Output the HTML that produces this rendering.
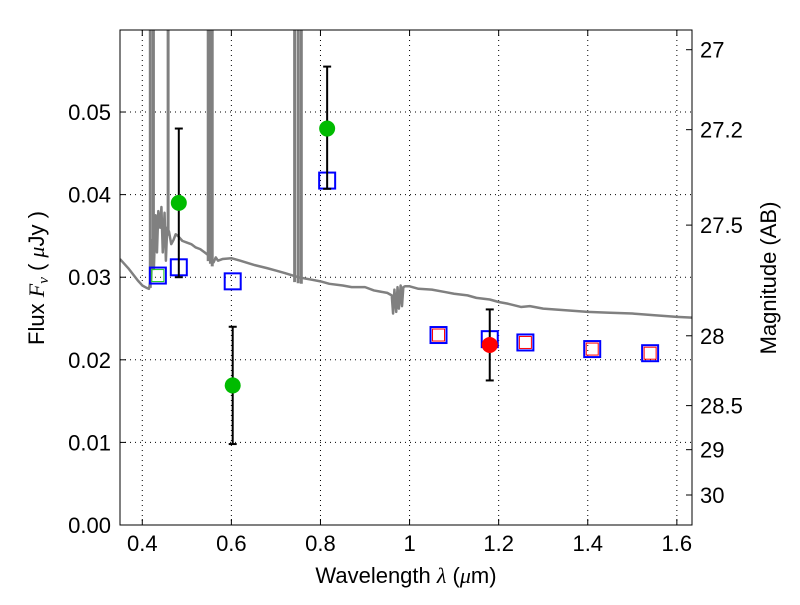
<!DOCTYPE html>
<html><head><meta charset="utf-8"><style>
body{margin:0;background:#fff}
svg text{font-family:"Liberation Sans",sans-serif;font-size:22px;fill:#000}
</style></head><body>
<svg id="c" width="800" height="600"></svg>
<script>
const specW=[0.35,0.37,0.39,0.40,0.41,0.415,0.42,0.423,0.426,0.43,0.433,0.436,0.44,0.443,0.446,0.45,0.453,0.456,0.46,0.465,0.47,0.475,0.48,0.49,0.5,0.51,0.52,0.53,0.54,0.55,0.56,0.565,0.57,0.58,0.6,0.62,0.65,0.68,0.7,0.72,0.75,0.78,0.8,0.82,0.85,0.87,0.9,0.92,0.95,0.96,0.963,0.966,0.97,0.973,0.976,0.98,0.983,0.986,0.99,1.0,1.02,1.05,1.08,1.1,1.13,1.15,1.18,1.2,1.22,1.25,1.27,1.3,1.35,1.4,1.45,1.5,1.55,1.6,1.634];
const specF=[0.0322,0.0310,0.0296,0.0290,0.0287,0.0286,0.0300,0.0345,0.031,0.0375,0.033,0.038,0.036,0.0385,0.033,0.0378,0.032,0.036,0.0355,0.034,0.0345,0.0352,0.035,0.0344,0.0342,0.0340,0.0336,0.0334,0.0330,0.0326,0.0318,0.0324,0.032,0.0322,0.0323,0.0320,0.0315,0.0311,0.0308,0.0305,0.0300,0.0297,0.0295,0.0292,0.0290,0.0288,0.0288,0.0284,0.0281,0.0278,0.0256,0.0285,0.0258,0.0288,0.0262,0.029,0.0265,0.0288,0.0289,0.0289,0.0286,0.0285,0.0282,0.0280,0.0278,0.0275,0.0273,0.0270,0.0268,0.0264,0.0265,0.0262,0.0260,0.0258,0.0257,0.0256,0.0254,0.0252,0.0251];
const lineW=[0.418,0.425,0.458,0.548,0.553,0.557,0.742,0.750,0.757];
const modelW=[0.435,0.482,0.603,0.815,1.065,1.18,1.26,1.41,1.54];
const modelF=[0.0302,0.0312,0.0295,0.0417,0.0230,0.0225,0.0221,0.0213,0.0208];
const innerW=[0.435,1.065,1.26,1.41,1.54];
const innerF=[0.0302,0.0230,0.0221,0.0213,0.0208];
const innerC=['#2c2','red','red','red','red'];
const obsW=[0.482,0.603,0.815,1.18];
const obsF=[0.039,0.0169,0.048,0.0218];
const obsLo=[0.030,0.0098,0.0407,0.0175];
const obsHi=[0.048,0.024,0.0555,0.0261];
const obsC=['#0b0','#0b0','#0b0','red'];
const xTicks=[0.4,0.6,0.8,1.0,1.2,1.4,1.6];
const xLabels=['0.4','0.6','0.8','1','1.2','1.4','1.6'];
const yTicks=[0,0.01,0.02,0.03,0.04,0.05];
const yLabels=['0.00','0.01','0.02','0.03','0.04','0.05'];
const magTicks=[27,27.2,27.5,28,28.5,29,30];
const magLabels=['27','27.2','27.5','28','28.5','29','30'];

const L=120,R=692,T=30,B=525,x0=0.35,x1=1.634,y0=0,y1=0.05993;
const X=v=>L+(v-x0)/(x1-x0)*(R-L);
const Y=v=>B-(v-y0)/(y1-y0)*(B-T);
const svg=document.getElementById('c');
const NS='http://www.w3.org/2000/svg';
function mk(t,a,p){const e=document.createElementNS(NS,t);for(const k in a)e.setAttribute(k,a[k]);(p||svg).appendChild(e);return e;}
const clip=mk('clipPath',{id:'pc'});mk('rect',{x:L,y:T,width:R-L,height:B-T},clip);
const g=mk('g',{'clip-path':'url(#pc)'});


xTicks.forEach(v=>{const e=mk('line',{x1:X(v),x2:X(v),y1:T,y2:B,stroke:'#000','stroke-dasharray':'1,4','stroke-width':1},g);

});
yTicks.slice(1).forEach(v=>{const e=mk('line',{x1:L,x2:R,y1:Y(v),y2:Y(v),stroke:'#000','stroke-dasharray':'1,4','stroke-width':1},g);

});
function contAt(w){for(let i=1;i<specW.length;i++)if(w<=specW[i]){const t=(w-specW[i-1])/(specW[i]-specW[i-1]);return specF[i-1]+t*(specF[i]-specF[i-1]);}return specF[specF.length-1];}
lineW.forEach(w=>{const e=mk('line',{x1:X(w),x2:X(w),y1:Y(contAt(w))+6,y2:T,stroke:'#808080','stroke-width':3},g);

});
const sp=mk('polyline',{points:specW.map((w,i)=>X(w)+','+Y(specF[i])).join(' '),fill:'none',stroke:'#808080','stroke-width':2.5,'stroke-linejoin':'round'},g);


modelW.forEach((w,i)=>{const e=mk('rect',{x:X(w)-8,y:Y(modelF[i])-8,width:16,height:16,fill:'none',stroke:'#00f','stroke-width':2},g);

});
innerW.forEach((w,i)=>{const e=mk('rect',{x:X(w)-6,y:Y(innerF[i])-6,width:12,height:12,fill:'none',stroke:innerC[i],'stroke-width':1},g);

});
obsW.forEach((w,i)=>{const x=X(w);
const e=mk('line',{x1:x,x2:x,y1:Y(obsLo[i]),y2:Y(obsHi[i]),stroke:'#000','stroke-width':2},g);


[obsLo[i],obsHi[i]].forEach(v=>{const c=mk('line',{x1:x-4,x2:x+4,y1:Y(v),y2:Y(v),stroke:'#000','stroke-width':2},g);

});
const d=mk('circle',{cx:x,cy:Y(obsF[i]),r:8,fill:obsC[i]},g);

});
const fr=mk('rect',{x:L,y:T,width:R-L,height:B-T,fill:'none',stroke:'#000','stroke-width':1});


xTicks.forEach((v,i)=>{mk('line',{x1:X(v),x2:X(v),y1:B,y2:B-6,stroke:'#000'});mk('line',{x1:X(v),x2:X(v),y1:T,y2:T+6,stroke:'#000'});
const t=mk('text',{x:X(v),y:B+26,'text-anchor':'middle'});t.textContent=xLabels[i];

});
yTicks.forEach((v,i)=>{mk('line',{x1:L,x2:L+6,y1:Y(v),y2:Y(v),stroke:'#000'});
const t=mk('text',{x:L-9,y:Y(v)+8,'text-anchor':'end'});t.textContent=yLabels[i];

});
magTicks.forEach((m,i)=>{const y=Y(Math.pow(10,(23.9-m)/2.5));mk('line',{x1:R-6,x2:R,y1:y,y2:y,stroke:'#000'});
const t=mk('text',{x:R+8,y:y+8});t.textContent=magLabels[i];

});
</script>
<svg width="800" height="600" style="position:absolute;left:0;top:0">
<text x="406" y="583" text-anchor="middle" style="font-family:'Liberation Sans',sans-serif;font-size:22px">Wavelength  <tspan font-family="Liberation Serif" font-style="italic">λ</tspan> (<tspan font-family="Liberation Serif" font-style="italic">μ</tspan>m)</text>
<text transform="translate(44,278) rotate(-90)" text-anchor="middle" style="font-family:'Liberation Sans',sans-serif;font-size:22px">Flux  <tspan font-family="Liberation Serif" font-style="italic">F</tspan><tspan font-family="Liberation Serif" font-style="italic" font-size="15" dy="4">ν</tspan><tspan dy="-4">  (  </tspan><tspan font-family="Liberation Serif" font-style="italic">μ</tspan>Jy )</text>
<text transform="translate(776,278) rotate(-90)" text-anchor="middle" style="font-family:'Liberation Sans',sans-serif;font-size:22px">Magnitude (AB)</text>
</svg>
</body></html>
